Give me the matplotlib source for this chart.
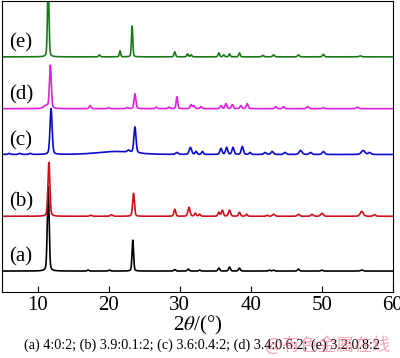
import numpy as np
import matplotlib.pyplot as plt

plt.rcParams['font.family'] = ['Liberation Serif', 'DejaVu Serif']
plt.rcParams['mathtext.fontset'] = 'stix'

# sample labels, offsets and colours
labels = ["(a)", "(b)", "(c)", "(d)", "(e)"]
offsets = [21, 76, 138, 184, 236]
colors = ["black", "#d0101a", "#0a0acc", "#e020e0", "#1a7a1a"]

# peak lists: (2theta, height, width)
peaks_a = [(11.5, 85, 0.30), (23.4, 31, 0.25), (17.1, 1, 0.3), (20.1, 1, 0.3),
           (29.3, 1.5, 0.3), (31.2, 2, 0.3), (32.8, 1, 0.3), (35.5, 3, 0.3),
           (37.0, 4, 0.3), (38.4, 3, 0.3), (42.6, 1, 0.3), (43.2, 1, 0.3),
           (46.7, 2, 0.3), (50.0, 1, 0.3), (55.6, 1, 0.4)]
peaks_b = [(11.6, 54, 0.32), (23.5, 23, 0.30), (17.5, 1, 0.4), (20.4, 1.5, 0.4),
           (29.3, 7, 0.3), (31.3, 9, 0.35), (32.2, 3, 0.3), (32.8, 2, 0.3),
           (35.5, 4, 0.3), (36.0, 6, 0.3), (37.0, 6, 0.35), (38.4, 4, 0.3),
           (39.4, 2, 0.3), (42.3, 1, 0.3), (43.2, 2, 0.4), (46.7, 2, 0.4),
           (48.6, 2, 0.4), (50.0, 3, 0.4), (55.6, 5, 0.5), (57.4, 1.5, 0.4)]
peaks_c = [(11.9, 46, 0.35), (23.7, 26, 0.35), (6.0, 1, 0.4), (7.5, 1, 0.4),
           (9.0, 1, 0.4), (21.0, 3, 6.0), (22.8, 2, 0.4), (29.6, 2, 0.4),
           (31.5, 7, 0.4), (32.3, 3, 0.3), (33.2, 3, 0.3), (35.8, 6, 0.35),
           (36.6, 7, 0.35), (37.5, 7, 0.35), (38.8, 8, 0.35), (39.9, 2, 0.3),
           (42.0, 2, 0.4), (43.0, 3, 0.4), (44.8, 2, 0.4), (47.0, 4, 0.5),
           (48.4, 2, 0.4), (50.2, 3, 0.4), (55.8, 4, 0.6), (56.7, 2, 0.4)]
peaks_d = [(11.8, 43, 0.30), (11.2, 3, 0.8), (23.7, 15, 0.30), (17.4, 3, 0.3),
           (20.0, 1, 0.3), (22.6, 1, 0.3), (26.7, 1.5, 0.3), (28.5, 1.5, 0.3),
           (29.6, 12, 0.25), (31.6, 4, 0.3), (32.0, 3, 0.3), (33.0, 2, 0.3),
           (35.8, 3, 0.3), (36.5, 5, 0.3), (37.4, 4, 0.3), (38.6, 3, 0.3),
           (39.5, 5, 0.3), (43.5, 2, 0.3), (44.6, 2, 0.3), (48.0, 2, 0.4),
           (50.2, 1, 0.3), (55.0, 1.5, 0.4)]
peaks_e = [(11.5, 75, 0.25), (23.3, 31, 0.22), (18.7, 2, 0.25), (21.6, 6, 0.22),
           (29.3, 5, 0.25), (31.1, 3, 0.25), (31.6, 2, 0.25), (35.5, 4, 0.25),
           (36.2, 2, 0.25), (37.0, 3, 0.25), (38.4, 4, 0.25), (41.7, 1.5, 0.3),
           (43.2, 2, 0.3), (46.7, 2, 0.3), (50.2, 2.5, 0.3), (55.4, 1, 0.4)]
all_peaks = [peaks_a, peaks_b, peaks_c, peaks_d, peaks_e]

x = np.arange(5, 60.01, 0.02)


def pattern(peaks):
    y = np.zeros_like(x)
    for pos, h, w in peaks:
        g = np.exp(-4 * np.log(2) * ((x - pos) / w) ** 2)
        l = 1 / (1 + 4 * ((x - pos) / w) ** 2)
        y += h * (0.7 * g + 0.3 * l)
    return y


fig = plt.figure(figsize=(4.0, 3.58), dpi=100)
ax = fig.add_axes([0.005, 0.1844, 0.9775, 0.8126])

for lab, off, col, pk in zip(labels, offsets, colors, all_peaks):
    ax.plot(x, off + pattern(pk), color=col, lw=1.2)
    ax.text(6.0, off + 14, lab, fontsize=15, ha='left', va='center')

ax.set_xlim(5, 60)
ax.set_ylim(0, 292)
ax.set_xticks([10, 20, 30, 40, 50, 60])
ax.set_yticks([])
ax.tick_params(axis='x', direction='in', length=4, labelsize=15, pad=3)
ax.set_xlabel(r'2$\theta$/(°)', fontsize=15, labelpad=-1)

fig.text(0.505, 0.036, "(a) 4:0:2; (b) 3.9:0.1:2; (c) 3.6:0.4:2; (d) 3.4:0.6:2; (e) 3.2:0.8:2",
         fontsize=10.2, ha='center', va='center')
fig.text(0.82, 0.036, "@有色金属在线", fontsize=13, ha='center', va='center',
         color='#f06080', alpha=0.55, family=['Noto Sans CJK SC', 'DejaVu Sans'])

fig.savefig("out.png", dpi=100)
